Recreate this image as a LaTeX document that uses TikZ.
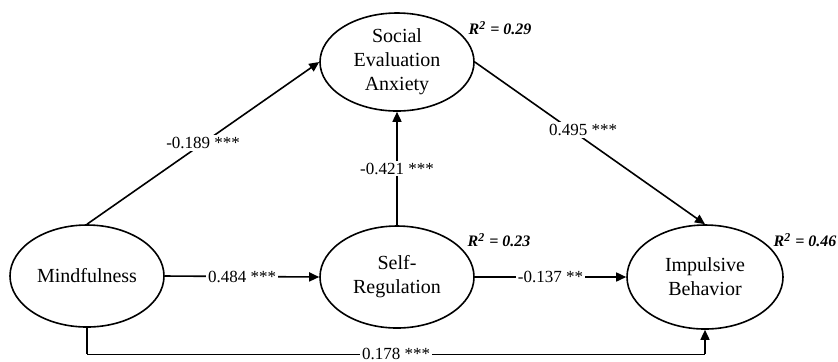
\documentclass[tikz,border=0pt]{standalone}
\usepackage{fontspec}
\setmainfont{Liberation Serif}
\usetikzlibrary{shapes.geometric,arrows.meta}
\tikzset{
  latent/.style={draw,ellipse,line width=0.8pt,inner sep=0pt,align=center,
    font=\fontsize{10}{12}\selectfont},
  coef/.style={fill=white,inner sep=1pt,font=\fontsize{8.5}{10}\selectfont},
  rsq/.style={font=\fontsize{8}{10}\selectfont\bfseries\itshape},
  path/.style={line width=0.8pt,-{Triangle[length=5pt,width=4.5pt]}}
}
\begin{document}
\begin{tikzpicture}[x=0.5pt,y=-0.5pt]
\useasboundingbox (0,0) rectangle (838,361);
\node[latent,minimum width=77pt,minimum height=51pt] (mind) at (87,276) {Mindfulness};
\node[latent,minimum width=77pt,minimum height=51pt] (selfreg) at (397,277) {Self-\\Regulation};
\node[latent,minimum width=77pt,minimum height=49pt] (social) at (397,62) {Social\\Evaluation\\Anxiety};
\node[latent,minimum width=78pt,minimum height=52pt] (impulse) at (705,277) {Impulsive\\Behavior};
\node[rsq] (r2soc) at (500,28) {R\textsuperscript{2} = 0.29};
\node[rsq] (r2self) at (499,240) {R\textsuperscript{2} = 0.23};
\node[rsq] (r2imp) at (805,240) {R\textsuperscript{2} = 0.46};
\coordinate (bl) at (87,354);
\coordinate (br) at (705,354);
\draw[path] (mind.north) -- node[coef] {-0.189 ***} (social.west);
\draw[path] (selfreg.north) -- node[coef] {-0.421 ***} (social.south);
\draw[path] (social.east) -- node[coef,pos=0.47,yshift=4pt] {0.495 ***} (impulse.north);
\draw[path] (mind.east) -- node[coef] {0.484 ***} (selfreg.west);
\draw[path] (selfreg.east) -- node[coef] {-0.137 **} (impulse.west);
\draw[line width=0.8pt] (mind.south) -- (bl);
\draw[line width=0.4pt] (bl) -- node[coef] {0.178 ***} (br);
\draw[path] (br) -- (impulse.south);
\end{tikzpicture}
\end{document}
